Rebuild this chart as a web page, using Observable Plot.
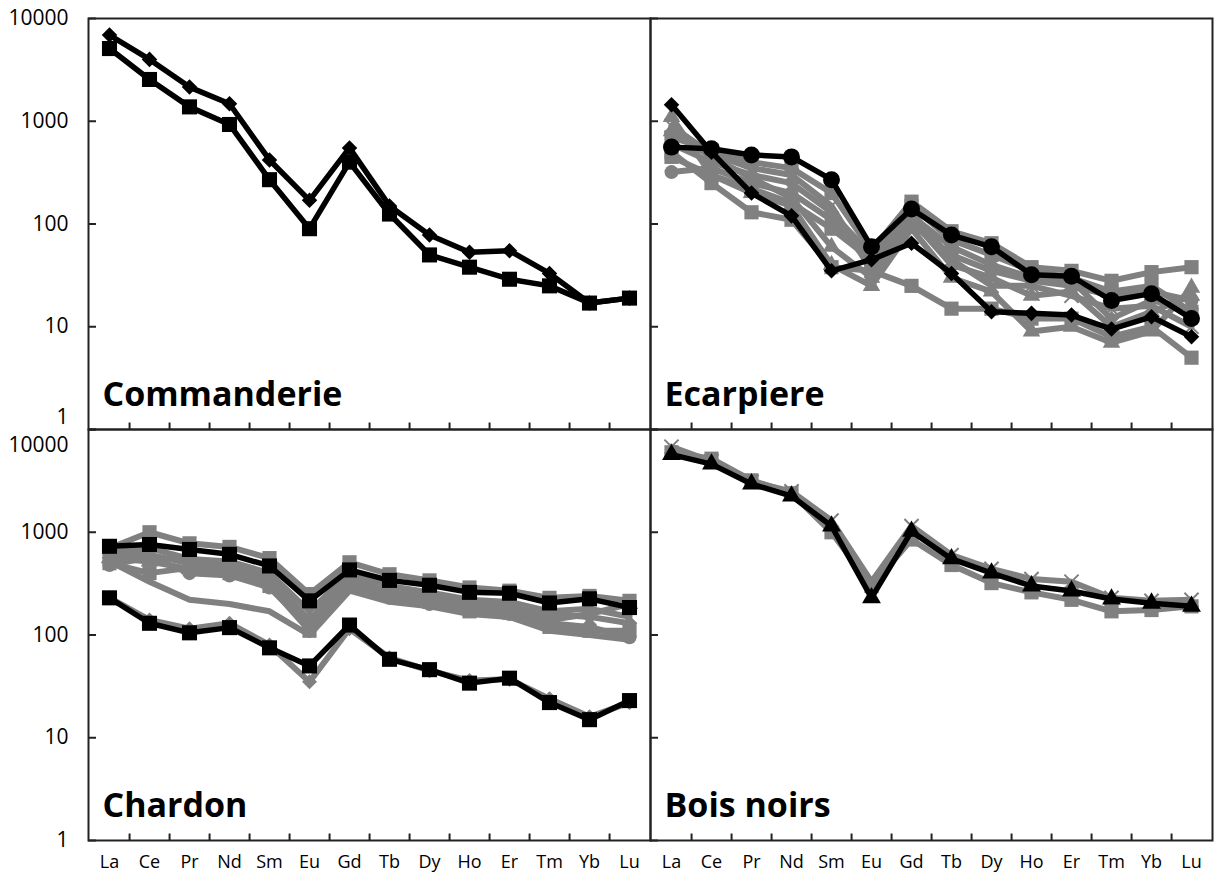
<!DOCTYPE html>
<html>
<head>
<meta charset="utf-8">
<script src="https://cdn.jsdelivr.net/npm/d3@7"></script>
<script src="https://cdn.jsdelivr.net/npm/@observablehq/plot@0.6"></script>
<style>
  html, body { margin: 0; padding: 0; background: #fff; }
  #chart svg { display: block; }
</style>
</head>
<body>
<div id="chart"></div>
<script>
// ---------- categories and tick labels ----------
const elements = ["La","Ce","Pr","Nd","Sm","Eu","Gd","Tb","Dy","Ho","Er","Tm","Yb","Lu"];
const yTickValues = [1, 10, 100, 1000, 10000];
const panelNames = ["Commanderie", "Ecarpiere", "Chardon", "Bois noirs"];

// ---------- Commanderie ----------
const commanderieBlackDiamond = [6900, 4000, 2150, 1480, 420, 170, 550, 150, 78, 53, 55, 33, 17, 19];
const commanderieBlackSquare  = [5100, 2550, 1380, 930, 270, 90, 400, 125, 50, 38, 29, 25, 17, 19];

// ---------- Ecarpiere ----------
const ecarpiereBlackCircle  = [560, 540, 470, 450, 270, 60, 140, 78, 60, 32, 31, 18, 21, 12];
const ecarpiereBlackDiamond = [1450, 500, 200, 120, 35, 45, 65, 33, 14, 13.5, 13, 9.5, 12.5, 8];
const ecarpiereGraySquareA  = [700, 520, 400, 350, 200, 55, 165, 85, 65, 38, 35, 28, 34, 38];
const ecarpiereGrayTriangleA = [1100, 300, 200, 150, 40, 25, 90, 30, 22, 9, 10, 7, 9, 24];
const ecarpiereGraySquareB  = [500, 250, 130, 110, 38, 35, 25, 15, 15, 12, 12, 8, 10, 5];
const ecarpiereGrayDiamond  = [600, 400, 300, 250, 130, 50, 120, 60, 40, 30, 28, 12, 18, 15];
const ecarpiereGrayCircle   = [320, 350, 250, 200, 110, 40, 100, 50, 35, 28, 25, 20, 22, 18];
const ecarpiereGrayTriangleB = [800, 450, 280, 180, 60, 30, 110, 40, 30, 20, 22, 10, 14, 20];
const ecarpiereGraySquareC  = [450, 300, 220, 160, 90, 45, 150, 70, 50, 35, 30, 22, 25, 14];
const ecarpiereGrayCross    = [900, 480, 350, 300, 150, 35, 130, 45, 25, 25, 20, 15, 16, 10];

// ---------- Chardon ----------
const chardonBlackSquareHigh = [730, 760, 680, 610, 470, 215, 430, 340, 305, 260, 255, 205, 225, 185];
const chardonBlackSquareLow  = [230, 130, 105, 118, 75, 50, 125, 58, 46, 34, 38, 22, 15, 23];
const chardonGrayDiamondLow  = [230, 140, 115, 130, 80, 35, 115, 60, 45, 36, 37, 24, 16, 22];
const chardonGraySquareA     = [700, 1000, 780, 720, 560, 250, 510, 390, 340, 290, 270, 230, 240, 215];
const chardonGrayCircle      = [480, 570, 400, 380, 290, 120, 320, 230, 200, 175, 160, 130, 120, 95];
const chardonGrayPlain       = [520, 330, 220, 200, 170, 100, 270, 210, 190, 160, 150, 110, 100, 90];
const chardonGrayDiamond     = [600, 600, 500, 470, 350, 140, 360, 260, 240, 200, 190, 160, 150, 130];
const chardonGrayTriangle    = [560, 520, 440, 420, 320, 130, 300, 250, 220, 180, 175, 140, 160, 200];
const chardonGrayCross       = [650, 700, 550, 520, 400, 170, 400, 300, 260, 220, 210, 170, 180, 150];
const chardonGraySquareB     = [500, 400, 450, 400, 300, 110, 330, 240, 210, 170, 165, 120, 110, 110];

// ---------- Bois noirs ----------
const boisBlackTriangle = [5700, 4600, 2950, 2250, 1150, 230, 1020, 550, 400, 300, 268, 224, 204, 190];
const boisGrayCross     = [6800, 4900, 3100, 2500, 1300, 330, 1150, 600, 440, 350, 330, 230, 215, 220];
const boisGraySquare    = [6000, 5200, 3200, 2400, 1000, 300, 850, 480, 320, 260, 220, 170, 175, 190];

// ---------- assemble table ----------
const panelPos = {
  "Commanderie": {fx: "L", fy: "T"},
  "Ecarpiere":   {fx: "R", fy: "T"},
  "Chardon":     {fx: "L", fy: "B"},
  "Bois noirs":  {fx: "R", fy: "B"}
};
const seriesDefs = [
  ["Commanderie", "black", "diamond", commanderieBlackDiamond],
  ["Commanderie", "black", "square", commanderieBlackSquare],
  ["Ecarpiere", "gray", "square", ecarpiereGraySquareA],
  ["Ecarpiere", "gray", "triangle", ecarpiereGrayTriangleA],
  ["Ecarpiere", "gray", "square", ecarpiereGraySquareB],
  ["Ecarpiere", "gray", "diamond", ecarpiereGrayDiamond],
  ["Ecarpiere", "gray", "circle", ecarpiereGrayCircle],
  ["Ecarpiere", "gray", "triangle", ecarpiereGrayTriangleB],
  ["Ecarpiere", "gray", "square", ecarpiereGraySquareC],
  ["Ecarpiere", "gray", "times", ecarpiereGrayCross],
  ["Ecarpiere", "black", "circle", ecarpiereBlackCircle],
  ["Ecarpiere", "black", "diamond", ecarpiereBlackDiamond],
  ["Chardon", "gray", "diamond", chardonGrayDiamondLow],
  ["Chardon", "gray", "square", chardonGraySquareA],
  ["Chardon", "gray", "circle", chardonGrayCircle],
  ["Chardon", "gray", "none", chardonGrayPlain],
  ["Chardon", "gray", "diamond", chardonGrayDiamond],
  ["Chardon", "gray", "triangle", chardonGrayTriangle],
  ["Chardon", "gray", "times", chardonGrayCross],
  ["Chardon", "gray", "square", chardonGraySquareB],
  ["Chardon", "black", "square", chardonBlackSquareHigh],
  ["Chardon", "black", "square", chardonBlackSquareLow],
  ["Bois noirs", "gray", "square", boisGraySquare],
  ["Bois noirs", "gray", "times", boisGrayCross],
  ["Bois noirs", "black", "triangle", boisBlackTriangle]
];
const rows = [];
seriesDefs.forEach(([panel, color, symbol, values], i) => {
  values.forEach((v, j) => rows.push({
    id: i, panel, color, symbol, el: elements[j], v,
    fx: panelPos[panel].fx, fy: panelPos[panel].fy
  }));
});

// ---------- layout ----------
const W = 1215, H = 881;
const mL = 88, mR = 3, mT = 17, mB = 41;
const fw = (W - mL - mR) / 2;
const fh = (H - mT - mB) / 2;
const bw = fw / elements.length;
const GRAY = "#808080";

const sizes = {
  black: {square: 8.5, diamond: 6.2, circle: 8.5, triangle: 7, times: 6},
  gray:  {square: 8, diamond: 6, circle: 7, triangle: 6.5, times: 6.5}
};

function dotMarks(color) {
  const fill = color === "black" ? "#000" : GRAY;
  const sub = rows.filter(d => d.color === color);
  const marks = [];
  for (const sym of ["square", "circle", "triangle"]) {
    marks.push(Plot.dot(sub.filter(d => d.symbol === sym), {
      x: "el", y: "v", fx: "fx", fy: "fy", symbol: sym, r: sizes[color][sym], fill, stroke: "none"
    }));
  }
  marks.push(Plot.dot(sub.filter(d => d.symbol === "diamond"), {
    x: "el", y: "v", fx: "fx", fy: "fy", symbol: "square", rotate: 45, r: sizes[color].diamond, fill, stroke: "none"
  }));
  marks.push(Plot.dot(sub.filter(d => d.symbol === "times"), {
    x: "el", y: "v", fx: "fx", fy: "fy", symbol: "times", r: sizes[color].times, stroke: fill, strokeWidth: 2, fill: "none"
  }));
  return marks;
}

// axis label rows
const yLabelRows = [];
for (const fy of ["T", "B"]) for (const v of yTickValues) yLabelRows.push({fx: "L", fy, v});
const yLabelsNormal = yLabelRows.filter(d => !(d.fy === "T" && d.v === 1) && !(d.fy === "B" && d.v === 10000));
const yLabelTopOne = yLabelRows.filter(d => d.fy === "T" && d.v === 1);
const yLabelBottomMax = yLabelRows.filter(d => d.fy === "B" && d.v === 10000);
const xLabelRows = [];
for (const fx of ["L", "R"]) for (const el of elements) xLabelRows.push({fx, fy: "B", el});

const titleRows = panelNames.map(name => ({name, ...panelPos[name]}));

const yLabelOpts = {y: "v", fx: "fx", fy: "fy", text: d => String(d.v), frameAnchor: "left",
  textAnchor: "end", dx: -20, fontSize: 21, fill: "#000"};

const chart = Plot.plot({
  width: W, height: H,
  marginLeft: mL, marginRight: mR, marginTop: mT, marginBottom: mB,
  style: {fontFamily: "'Open Sans', sans-serif", background: "#fff"},
  fx: {domain: ["L", "R"], padding: 0, axis: null},
  fy: {domain: ["T", "B"], padding: 0, axis: null},
  x: {type: "band", domain: elements, padding: 0, axis: null},
  y: {type: "log", domain: [1, 10000], axis: null},
  marks: [
    // inward tick marks
    Plot.tickY(yTickValues, {y: d => d, insetRight: fw - 8, stroke: "#222", strokeWidth: 2}),
    Plot.tickX(elements.slice(0, elements.length - 1), {x: d => d, dx: bw / 2, insetTop: fh - 7, stroke: "#222", strokeWidth: 2}),
    // gray series
    Plot.line(rows.filter(d => d.color === "gray"), {
      x: "el", y: "v", z: "id", fx: "fx", fy: "fy", stroke: GRAY, strokeWidth: 6, strokeLinejoin: "round"
    }),
    ...dotMarks("gray"),
    // black series
    Plot.line(rows.filter(d => d.color === "black"), {
      x: "el", y: "v", z: "id", fx: "fx", fy: "fy", stroke: "#000", strokeWidth: 5.5, strokeLinejoin: "round"
    }),
    ...dotMarks("black"),
    // frames
    Plot.frame({stroke: "#222", strokeWidth: 2}),
    // panel titles
    Plot.text(titleRows, {fx: "fx", fy: "fy", text: "name", frameAnchor: "bottom-left",
      dx: 14, dy: -24, lineAnchor: "bottom", textAnchor: "start", fontSize: 34, fontWeight: "bold", fill: "#000"}),
    // y labels
    Plot.text(yLabelsNormal, yLabelOpts),
    Plot.text(yLabelTopOne, {...yLabelOpts, dy: -12}),
    Plot.text(yLabelBottomMax, {...yLabelOpts, dy: 16}),
    // x labels
    Plot.text(xLabelRows, {x: "el", fx: "fx", fy: "fy", text: "el", frameAnchor: "bottom",
      dy: 27, fontSize: 18, fill: "#000"})
  ]
});
document.getElementById("chart").appendChild(chart);
</script>
</body>
</html>
